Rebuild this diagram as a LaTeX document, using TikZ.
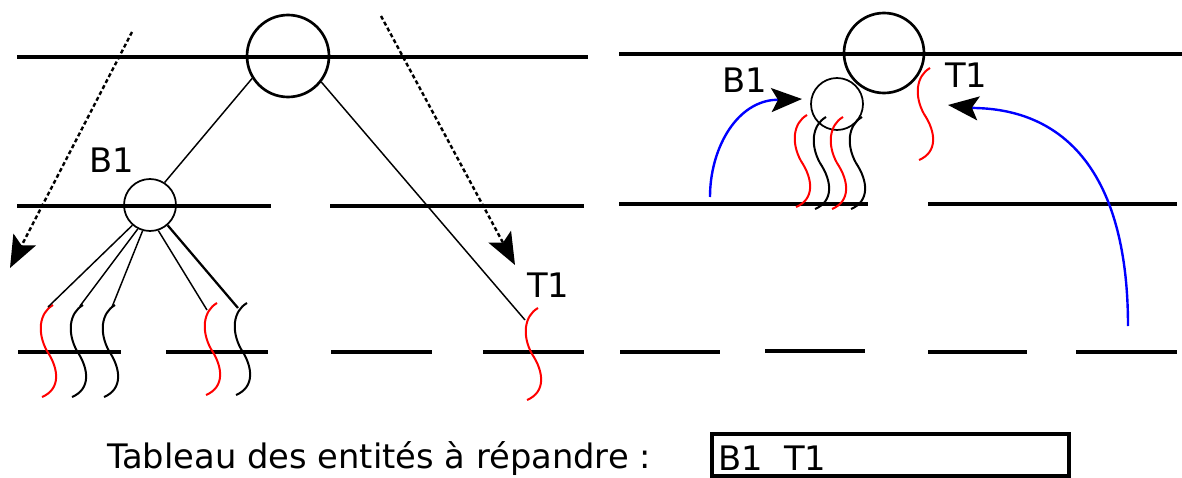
\documentclass[tikz,border=0pt]{standalone}
\usepackage{fontspec}
\setmainfont{DejaVu Sans}
\usetikzlibrary{arrows.meta}
\tikzset{
  x=0.75pt, y=-0.75pt,
  level/.style={line width=3pt},
  ring/.style={circle, draw, inner sep=0pt},
  link/.style={line width=1.1pt},
  lab/.style={inner sep=0pt, anchor=base west, font=\fontsize{25.3}{30}\selectfont},
  dotarrow/.style={line width=1.8pt, dash pattern=on 3pt off 2pt, -{Stealth[length=24pt,width=19pt,inset=5pt]}},
  bluearrow/.style={line width=1.8pt, blue, -{Stealth[length=23pt,width=18pt,inset=5pt,color=black]}},
  wiggle/.pic={\draw[line width=1.5pt] (0,0) .. controls (-14,8) and (-16,28) .. (-6,46) .. controls (6,64) and (8,84) .. (-11,92);}
}
\begin{document}
\begin{tikzpicture}
\path[use as bounding box] (0,0) rectangle (1182,478);

% ---------- left panel ----------
\draw[level] (17,57) -- (588,57);
\draw[level] (17,206) -- (271,206);
\draw[level] (330,206) -- (584,206);
\draw[level] (18,352) -- (121,352);
\draw[level] (166,352) -- (268,352);
\draw[level] (331,352) -- (432,352);
\draw[level] (483,352) -- (584,352);

\node[ring, line width=2pt, minimum size=61.5pt] (big) at (288,56) {};
\node[ring, line width=1.3pt, minimum size=39pt] (b1) at (150,205) {};

\pic[red] at (53,305) {wiggle};
\pic[black] at (83,305) {wiggle};
\pic[black] at (115,305) {wiggle};
\pic[red] at (217,303) {wiggle};
\pic[black] at (247,303) {wiggle};
\pic[red] at (538,308) {wiggle};

\coordinate (l1) at (48,307);
\coordinate (l2) at (80,306);
\coordinate (l3) at (112,307);
\coordinate (l4) at (207,310);
\coordinate (l5) at (238,308);
\coordinate (t1end) at (525,320);

\draw[link] (big.212) -- (b1.57);
\draw[link] (big.322) -- (t1end);
\draw[link] (b1.229) -- (l1);
\draw[link] (b1.243) -- (l2);
\draw[link] (b1.254) -- (l3);
\draw[link] (b1.288) -- (l4);
\draw[line width=1.7pt] (b1.311) -- (l5);

\coordinate (d1s) at (132,32);
\coordinate (d1e) at (10,268);
\coordinate (d2s) at (381,16);
\coordinate (d2e) at (515,265);
\draw[dotarrow] (d1s) -- (d1e);
\draw[dotarrow] (d2s) -- (d2e);

\node[lab] (lblB1) at (89,172) {B1};
\node[lab] (lblT1) at (527,297) {T1};

% ---------- right panel ----------
\draw[level] (619,54) -- (1182,54);
\draw[level] (619,204) -- (868,204);
\draw[level] (928,204) -- (1177,204);
\draw[level] (620,352) -- (720,352);
\draw[level] (765,351) -- (865,351);
\draw[level] (928,352) -- (1027,352);
\draw[level] (1076,352) -- (1177,352);

\node[ring, line width=2pt, minimum size=60pt] (bigR) at (884,53) {};
\node[ring, line width=1.3pt, minimum size=39pt] (b1R) at (837,104) {};

\pic[red] at (807,115) {wiggle};
\pic[black] at (826,117) {wiggle};
\pic[red] at (843,117) {wiggle};
\pic[black] at (862,117) {wiggle};
\pic[red] at (930,68) {wiggle};

\node[lab] (lblB1R) at (722,93) {B1};
\node[lab] (lblT1R) at (945,88) {T1};

\coordinate (a1s) at (710,197);
\coordinate (a1m) at (773,100);
\coordinate (a1e) at (802,99);
\draw[bluearrow] (a1s) .. controls (710,150) and (735,104) .. (a1m) -- (a1e);

\coordinate (a2s) at (1128,326);
\coordinate (a2m) at (975,108);
\coordinate (a2e) at (948,105);
\draw[bluearrow] (a2s) .. controls (1128,180) and (1070,110) .. (a2m) -- (a2e);

% ---------- bottom ----------
\node[lab] (caption) at (107,468) {Tableau des entités à répandre :};
\node[draw, line width=2.3pt, inner sep=0pt, minimum width=267.75pt, minimum height=31.5pt] (tab) at (890.5,455) {};
\node[lab] (tabtext) at (718,470) {B1\ \ T1};
\end{tikzpicture}
\end{document}
